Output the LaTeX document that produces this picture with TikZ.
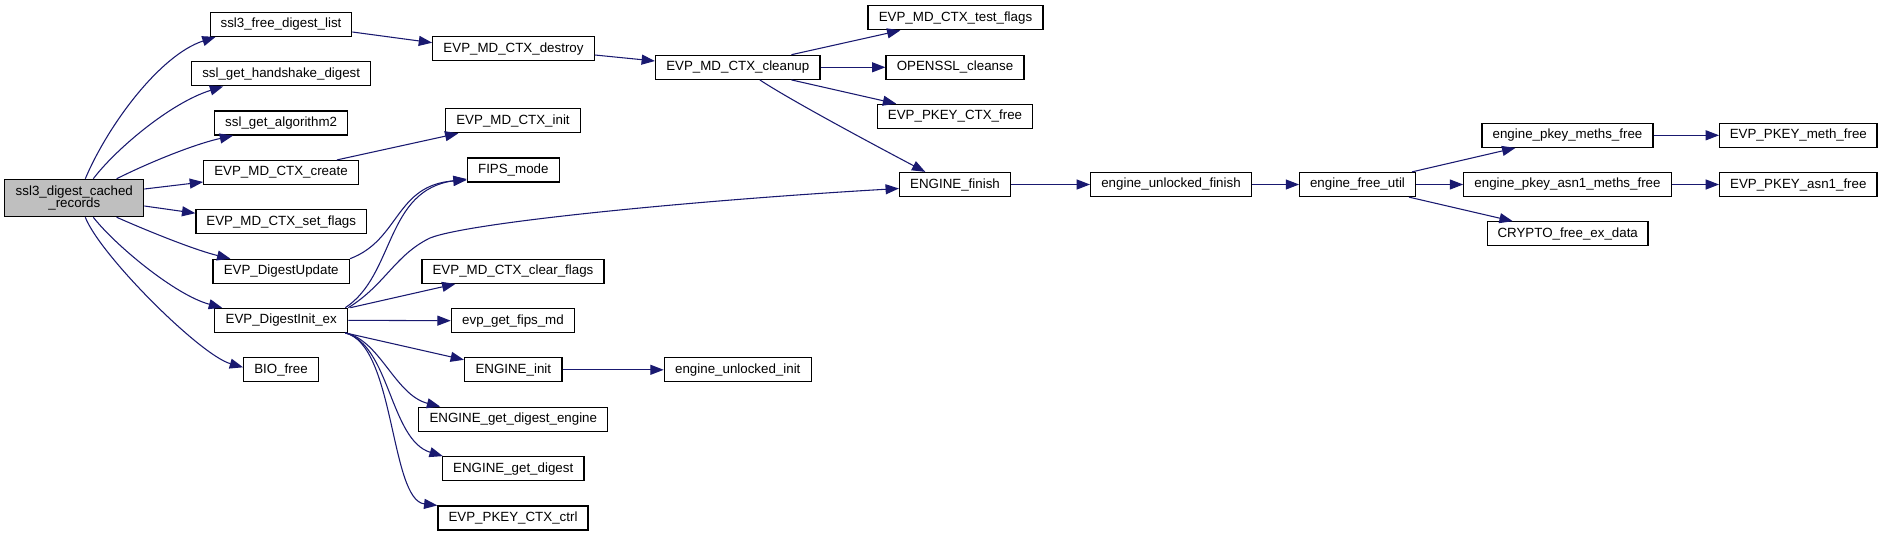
\documentclass[tikz,border=0pt]{standalone}
\usepackage{fontspec}
\setmainfont{Liberation Sans}
\usetikzlibrary{arrows.meta,calc}
\definecolor{edgecol}{HTML}{191970}
\definecolor{rootfill}{HTML}{BFBFBF}
\begin{document}
\begin{tikzpicture}[x=0.75pt,y=-0.75pt,
  fn/.style={draw=black, line width=0.9pt, fill=white, minimum height=18pt, inner sep=0pt, align=center, font=\fontsize{10}{9.5}\selectfont},
  call/.style={draw=edgecol, line width=0.8pt, -{Triangle[length=10pt,width=7.5pt]}, fill=none},
]
\useasboundingbox[fill=white] (0,0) rectangle (1883,536);

% root
\node[fn, fill=rootfill, minimum width=104.25pt, minimum height=28pt] (root) at (74.3,198) {ssl3\_digest\_cached\\\_records};

% column 2
\node[fn, minimum width=106.2pt] (n1) at (281,24.3) {ssl3\_free\_digest\_list};
\node[fn, minimum width=134.1pt] (n2) at (281.2,73.8) {ssl\_get\_handshake\_digest};
\node[fn, minimum width=99.75pt] (n3) at (281.2,123) {ssl\_get\_algorithm2};
\node[fn, minimum width=116pt] (n4) at (281,172.5) {EVP\_MD\_CTX\_create};
\node[fn, minimum width=127.9pt] (n5) at (281.2,221.7) {EVP\_MD\_CTX\_set\_flags};
\node[fn, minimum width=102.3pt] (n6) at (281.2,271.3) {EVP\_DigestUpdate};
\node[fn, minimum width=99.75pt] (n7) at (281.2,320.3) {EVP\_DigestInit\_ex};
\node[fn, minimum width=56pt] (n8) at (281,369.8) {BIO\_free};

% column 3
\node[fn, minimum width=121.2pt] (destroy) at (513.5,48.7) {EVP\_MD\_CTX\_destroy};
\node[fn, minimum width=101pt] (init) at (513,120.7) {EVP\_MD\_CTX\_init};
\node[fn, minimum width=69pt] (fips) at (513.3,170) {FIPS\_mode};
\node[fn, minimum width=136.5pt] (clearflags) at (513,271.3) {EVP\_MD\_CTX\_clear\_flags};
\node[fn, minimum width=92.5pt] (fipsmd) at (513,320.7) {evp\_get\_fips\_md};
\node[fn, minimum width=73.1pt] (enginit) at (513.3,369.8) {ENGINE\_init};
\node[fn, minimum width=141.75pt] (getdigeng) at (513.3,419.2) {ENGINE\_get\_digest\_engine};
\node[fn, minimum width=106.2pt] (getdig) at (513.2,468.7) {ENGINE\_get\_digest};
\node[fn, minimum width=112.5pt] (ctrl) at (513,518) {EVP\_PKEY\_CTX\_ctrl};

% column 4
\node[fn, minimum width=123.4pt] (cleanup) at (737.8,67.3) {EVP\_MD\_CTX\_cleanup};
\node[fn, minimum width=110.25pt] (unlinit) at (737.8,369.8) {engine\_unlocked\_init};

% column 5
\node[fn, minimum width=131.25pt] (testflags) at (955.5,17.8) {EVP\_MD\_CTX\_test\_flags};
\node[fn, minimum width=103.5pt] (cleanse) at (955,67.3) {OPENSSL\_cleanse};
\node[fn, minimum width=116.7pt] (pkeyfree) at (955,116.3) {EVP\_PKEY\_CTX\_free};
\node[fn, minimum width=83.25pt] (finish) at (955,184.5) {ENGINE\_finish};

% columns 6-9
\node[fn, minimum width=120.6pt] (unlfinish) at (1171,184.5) {engine\_unlocked\_finish};
\node[fn, minimum width=86.7pt] (freeutil) at (1357.5,184.5) {engine\_free\_util};
\node[fn, minimum width=128.25pt] (methsfree) at (1567.5,135.3) {engine\_pkey\_meths\_free};
\node[fn, minimum width=155.6pt] (asn1methsfree) at (1567.5,184.5) {engine\_pkey\_asn1\_meths\_free};
\node[fn, minimum width=120.5pt] (exdata) at (1567.7,233.8) {CRYPTO\_free\_ex\_data};
\node[fn, minimum width=118pt] (methfree) at (1798.3,135.3) {EVP\_PKEY\_meth\_free};
\node[fn, minimum width=118pt] (asn1free) at (1798.3,184.5) {EVP\_PKEY\_asn1\_free};

% edges from root
\draw[call] ($(root.north)+(11,0)$) .. controls (108,125) and (160,55) .. ($(n1.south west)+(6,0)$);
\draw[call] ($(root.north)+(19,0)$) .. controls (115,150) and (170,103) .. ($(n2.south west)+(32,0)$);
\draw[call] ($(root.north)+(42.4,0)$) .. controls (150,162) and (195,144) .. ($(n3.south west)+(19,0)$);
\draw[call] ($(root.east)+(0,-9)$) -- ($(n4.west)+(0,9.5)$);
\draw[call] ($(root.east)+(0,8)$) -- ($(n5.west)+(0,-8.5)$);
\draw[call] ($(root.south)+(42.4,0)$) .. controls (150,232) and (195,250) .. ($(n6.north west)+(18,0)$);
\draw[call] ($(root.south)+(19,0)$) .. controls (115,245) and (175,295) .. ($(n7.north west)+(8,0)$);
\draw[call] ($(root.south)+(11,0)$) .. controls (100,255) and (200,355) .. ($(n8.west)+(0,-2.5)$);

% column 2 -> 3
\draw[call] ($(n1.east)+(0,7.7)$) -- ($(destroy.west)+(0,-6)$);
\draw[call] ($(n4.north)+(56,0)$) -- ($(init.south west)+(13.3,0)$);
\draw[call] (n6.north east) .. controls (400,240) and (395,185) .. ($(fips.west)+(0,10)$);
\draw[call] ($(n7.north east)+(-3,0)$) .. controls (395,275) and (385,190) .. ($(fips.west)+(0,9)$);
\draw[call] (n7.north east) .. controls (385,285) and (395,255) .. (430,238) .. controls (470,222) and (700,200) .. ($(finish.west)+(0,4)$);
\draw[call] ($(n7.north east)+(2,0)$) -- ($(clearflags.south west)+(34,0)$);
\draw[call] (n7.east) -- (fipsmd.west);
\draw[call] ($(n7.south east)+(-3,0)$) -- ($(enginit.west)+(0,-10)$);
\draw[call] ($(n7.south east)+(-3,0)$) .. controls (380,340) and (395,395) .. ($(getdigeng.north west)+(22,0)$);
\draw[call] ($(n7.south east)+(-3,0)$) .. controls (390,345) and (390,440) .. ($(getdig.north west)+(1,0)$);
\draw[call] ($(n7.south east)+(-3,0)$) .. controls (395,345) and (390,500) .. ($(ctrl.north west)+(0,0)$);

% further
\draw[call] ($(destroy.east)+(0,6.3)$) -- ($(cleanup.west)+(0,-6.3)$);
\draw[call] ($(cleanup.north)+(53.6,0)$) -- ($(testflags.south west)+(33,0)$);
\draw[call] (cleanup.east) -- (cleanse.west);
\draw[call] ($(cleanup.south)+(53.6,0)$) -- ($(pkeyfree.north west)+(19.6,0)$);
\draw[call] ($(cleanup.south)+(22,0)$) .. controls (790,100) and (880,148) .. ($(finish.north west)+(26.4,0)$);
\draw[call] (enginit.east) -- (unlinit.west);
\draw[call] (finish.east) -- (unlfinish.west);
\draw[call] (unlfinish.east) -- (freeutil.west);
\draw[call] ($(freeutil.north east)+(-4,0)$) -- ($(methsfree.south west)+(34,0)$);
\draw[call] (freeutil.east) -- (asn1methsfree.west);
\draw[call] ($(freeutil.south east)+(-7,0)$) -- ($(exdata.north west)+(26,0)$);
\draw[call] (methsfree.east) -- (methfree.west);
\draw[call] (asn1methsfree.east) -- (asn1free.west);
\end{tikzpicture}
\end{document}
